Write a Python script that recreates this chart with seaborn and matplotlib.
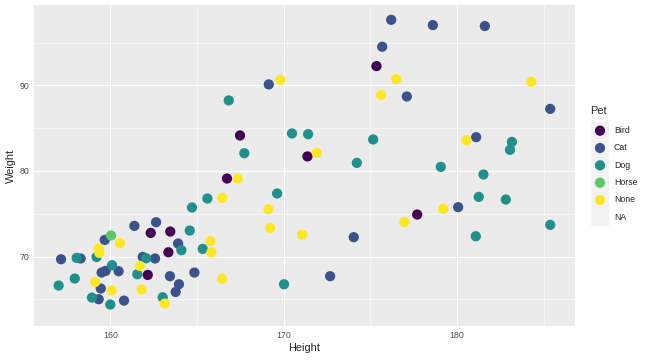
import numpy as np
import pandas as pd
import seaborn as sns
import matplotlib.pyplot as plt
from matplotlib.ticker import MultipleLocator

# values
bird_h = [162.33, 163.46, 163.35, 162.16, 175.35, 167.48, 171.37, 166.73, 177.70]
bird_w = [72.76, 72.92, 70.50, 67.85, 92.26, 84.15, 81.70, 79.12, 74.91]

cat_h = [161.39, 162.64, 159.68, 157.16, 158.29, 159.50, 159.73, 160.48, 161.87, 162.58,
         163.91, 163.44, 164.85, 163.96, 163.77, 159.45, 159.33, 160.79, 169.14, 174.04,
         172.68, 176.20, 178.60, 181.60, 175.68, 177.10, 185.37, 181.10, 180.06]
cat_w = [73.58, 74.01, 71.94, 69.68, 69.77, 68.13, 68.32, 68.28, 69.95, 69.77,
         71.52, 67.70, 68.13, 66.76, 65.86, 66.26, 65.01, 64.85, 90.12, 72.26,
         67.70, 97.67, 97.05, 96.94, 94.52, 88.71, 87.26, 83.95, 75.77]

dog_h = [164.71, 164.58, 159.21, 158.06, 160.10, 164.10, 165.33, 161.56, 162.07, 157.02,
         157.95, 158.94, 160.00, 163.02, 166.83, 170.48, 171.41, 175.16, 167.73, 174.22,
         165.60, 169.62, 170.02, 183.16, 183.05, 179.06, 181.52, 181.25, 182.81, 181.08,
         185.37]
dog_w = [75.73, 73.04, 69.95, 69.84, 68.98, 70.74, 70.89, 67.93, 69.80, 66.61,
         67.43, 65.20, 64.39, 65.24, 88.25, 84.39, 84.30, 83.68, 82.08, 80.95,
         76.78, 77.37, 66.76, 83.40, 82.47, 80.48, 79.59, 76.97, 76.66, 72.37,
         73.70]

horse_h = [160.04]
horse_w = [72.46]

none_h = [165.77, 165.83, 160.56, 159.33, 159.37, 161.70, 159.13, 160.08, 161.81, 163.14,
          176.49, 175.62, 169.81, 171.91, 167.35, 166.45, 169.12, 169.22, 171.06, 166.45,
          184.28, 180.54, 179.20, 176.96]
none_w = [71.79, 70.50, 71.56, 70.94, 70.42, 68.90, 67.03, 66.02, 66.14, 64.50,
          90.74, 88.87, 90.66, 82.12, 79.12, 76.86, 75.53, 73.35, 72.57, 67.38,
          90.42, 83.60, 75.57, 74.05]

pet_levels = ['Bird', 'Cat', 'Dog', 'Horse', 'None']
pet_colors = ['#440154', '#3B528B', '#21908C', '#5DC863', '#FDE725']

df = pd.concat([
    pd.DataFrame({'Height': bird_h, 'Weight': bird_w, 'Pet': 'Bird'}),
    pd.DataFrame({'Height': cat_h, 'Weight': cat_w, 'Pet': 'Cat'}),
    pd.DataFrame({'Height': dog_h, 'Weight': dog_w, 'Pet': 'Dog'}),
    pd.DataFrame({'Height': horse_h, 'Weight': horse_w, 'Pet': 'Horse'}),
    pd.DataFrame({'Height': none_h, 'Weight': none_w, 'Pet': 'None'}),
], ignore_index=True)

sns.set_style('white')
plt.rcParams['font.family'] = ['Liberation Sans', 'DejaVu Sans']

fig = plt.figure(figsize=(9, 5), dpi=72)
ax = fig.add_axes([34 / 648, 1 - 326 / 360, (575 - 34) / 648, (326 - 5) / 360])
ax.set_facecolor('#EBEBEB')

sns.scatterplot(data=df, x='Height', y='Weight', hue='Pet', hue_order=pet_levels,
                palette=dict(zip(pet_levels, pet_colors)), s=105, linewidth=0,
                alpha=1, legend=False, ax=ax, zorder=3)

ax.set_xlim(155.6, 186.8)
ax.set_ylim(61.88, 99.4)
ax.xaxis.set_major_locator(MultipleLocator(10))
ax.xaxis.set_minor_locator(MultipleLocator(5))
ax.yaxis.set_major_locator(MultipleLocator(10))
ax.yaxis.set_minor_locator(MultipleLocator(5))
ax.grid(which='major', color='white', linewidth=1.1)
ax.grid(which='minor', color='white', linewidth=0.55)
ax.set_axisbelow(True)
for s in ax.spines.values():
    s.set_visible(False)
ax.tick_params(which='major', length=2.75, width=0.8, color='#333333',
               labelsize=8.8, labelcolor='#4D4D4D', pad=2)
ax.tick_params(which='minor', length=0)
ax.set_xlabel('Height', fontsize=11, labelpad=3)
ax.set_ylabel('Weight', fontsize=11, labelpad=4)

# legend drawn by hand, ggplot style
lax = fig.add_axes([591 / 648, 1 - 226 / 360, 18 / 648, 104 / 360])
lax.set_facecolor('#F2F2F2')
lax.set_xlim(0, 1)
lax.set_ylim(6, 0)
lax.set_xticks([])
lax.set_yticks([])
for s in lax.spines.values():
    s.set_visible(False)
lax.scatter([0.5] * 5, np.arange(5) + 0.5, c=pet_colors, s=105, linewidths=0)
for i, lab in enumerate(pet_levels + ['NA']):
    fig.text(614 / 648, 1 - (122 + 17.33 * (i + 0.5)) / 360, lab,
             fontsize=8.8, va='center', ha='left')
fig.text(590 / 648, 1 - 111 / 360, 'Pet', fontsize=11, va='center', ha='left')

fig.savefig('out.png', dpi=72, facecolor='white')
